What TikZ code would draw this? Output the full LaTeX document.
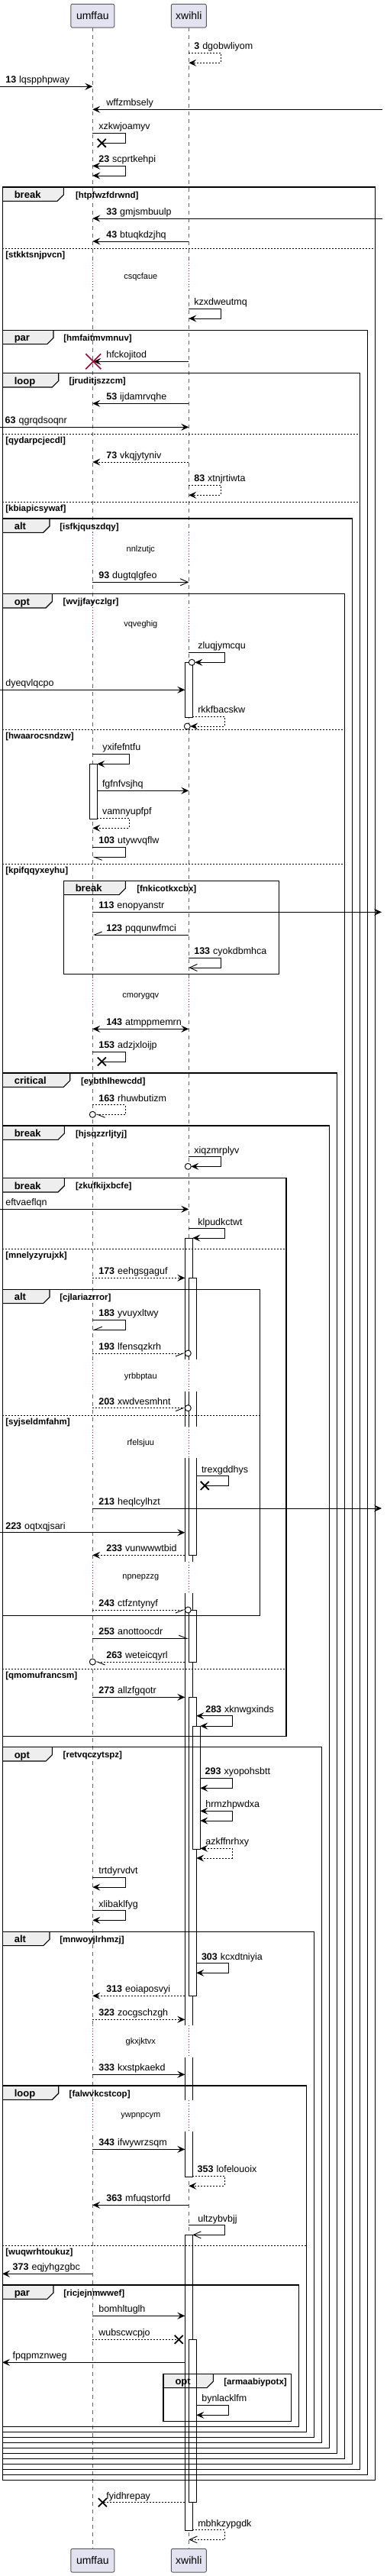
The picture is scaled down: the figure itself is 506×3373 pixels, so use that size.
\documentclass[tikz,border=0pt]{standalone}
\usepackage{fontspec}
\setmainfont{Liberation Sans}
\usetikzlibrary{arrows.meta}
\definecolor{partfill}{HTML}{E2E2F0}
\definecolor{partline}{HTML}{5A5A5A}
\definecolor{tabfill}{HTML}{EEEEEE}
\definecolor{delayred}{HTML}{A80036}
\definecolor{lifegray}{HTML}{666666}
\newcommand\mfont{\fontsize{12.5}{14}\selectfont}
\newcommand\gfont{\fontsize{13}{15}\selectfont\bfseries}
\newcommand\cfont{\fontsize{11.5}{13}\selectfont\bfseries}
\newcommand\dfont{\fontsize{11}{13}\selectfont}
\newcommand\pfont{\fontsize{14}{16}\selectfont}
\newcommand\nb[1]{\textbf{#1}\hspace{4pt}}
\newcommand\ml[3]{\node[lab] at (#1,#2-4.5) {#3};}
\newcommand\xm[2]{\draw[line width=1.8pt] (#1-5.5,#2-5.5) -- (#1+5.5,#2+5.5) (#1-5.5,#2+5.5) -- (#1+5.5,#2-5.5);}
\newcommand\ocirc[2]{\draw[line width=0.9pt,fill=white] (#1,#2) circle[radius=4pt];}
\def\framelist{3.3/245/491.7/3247.3/83.3/break/99/htpfwzfdrwnd,
3.3/432.3/481.7/3240.3/70/par/83.3/hmfaitmvmnuv,
3.3/488.7/471.7/3233.3/76.7/loop/90.7/jruditjszzcm,
3.3/679/461.7/3226.3/65/alt/78.3/isfkjquszdqy,
3.3/777.7/451.7/3219.3/68.3/opt/82.7/wvjjfayczlgr,
83.3/1153.3/365.7/1275.3/164.3/break/179.3/fnkicotkxcbx,
3.3/1405/441.7/3212.3/91.7/critical/106/eybthlhewcdd,
3.3/1474/431.7/3205.3/84.3/break/99/hjsqzzrljtyj,
3.3/1542.7/375/2273.3/84.3/break/99/zkufkijxbcfe,
3.3/1688.3/340.7/2115.7/65/alt/78.3/cjlariazrror,
3.3/2287.7/421.7/3198.3/68.3/opt/82.7/retvqczytspz,
3.3/2529.3/411.7/3191.3/65/alt/78.3/mnwoyjlrhmzj,
3.3/2731/401.7/3184.3/76.7/loop/90.7/falwvkcstcop,
3.3/2992/391.7/3177.3/70/par/83.3/ricjejnmwwef,
214/3108.3/381.7/3170.3/279.3/opt/293.3/armaabiypotx}
\def\seplist{325/491.7/stkktsnjpvcn,568.3/471.7/qydarpcjecdl,657.3/471.7/kbiapicsywaf,
955.3/451.7/hwaarocsndzw,1131/451.7/kpifqqyxeyhu,1635.3/375/mnelyzyrujxk,
1853/340.7/syjseldmfahm,2185.3/375/qmomufrancsm,2940/401.7/wuqwrhtoukuz}
\def\delaylist{340/380/362.3/csqcfaue,696.7/740/719.3/nnlzutjc,795/838/817.3/vqveghig,
1283.3/1323.3/1304.3/cmorygqv,1780/1821.7/1802.3/yrbbptau,1868.3/1909.3/1890/rfelsjuu,
2045/2086/2066/npnepzzg,2652.3/2694/2674/gkxjktvx,2750/2790.7/2771/ywpnpcym}
\begin{document}
\begin{tikzpicture}[x=1pt,y=-1pt, every node/.style={inner sep=0pt, outer sep=0pt},
  msg/.style={draw=black, line width=0.9pt},
  dsh/.style={dash pattern=on 2pt off 2pt},
  sarr/.style={-{Stealth[length=10pt,width=9pt,inset=4pt]}},
  sarrb/.style={{Stealth[length=10pt,width=9pt,inset=4pt]}-{Stealth[length=10pt,width=9pt,inset=4pt]}},
  oarr/.style={-{Straight Barb[length=10pt,width=9pt]}},
  harr/.style={-{Straight Barb[harpoon,length=10pt,width=8pt]}},
  harrs/.style={-{Straight Barb[harpoon,swap,length=10pt,width=8pt]}},
  lab/.style={anchor=base west, font=\mfont},
  frm/.style={draw=black, line width=1.4pt},
  part/.style={draw=partline, fill=partfill, line width=0.9pt, rounded corners=2pt, font=\pfont, minimum height=30.7pt},
  act/.style={draw=black, fill=white, line width=0.9pt},
  life/.style={draw=lifegray, line width=0.8pt, dash pattern=on 5pt off 5pt}]
\useasboundingbox (0,0) rectangle (506,3373);
% tab fills
\foreach \l/\t/\r/\b/\tr/\nm/\cx/\cn in \framelist {
  \fill[tabfill] (\l,\t) -- (\tr,\t) -- (\tr,\t+10) -- (\tr-8.3,\t+18.3) -- (\l,\t+18.3) -- cycle;
}
% participants
\node[part, minimum width=57pt] (u1) at (121.3,20.7) {umffau};
\node[part, minimum width=46pt] (w1) at (247.3,20.7) {xwihli};
\node[part, minimum width=57pt] (u2) at (121.3,3352.7) {umffau};
\node[part, minimum width=46pt] (w2) at (247.3,3352.7) {xwihli};
\draw[life] (u1.south) -- (u2.north);
\draw[life] (w1.south) -- (w2.north);
% activations
\draw[act] (242.3,867.3) rectangle (252.3,939.3);
\draw[act] (117.3,1000.3) rectangle (127.3,1072);
\draw[act] (242.3,1621) rectangle (252.3,2850);
\draw[act] (247.3,1673.3) rectangle (257.3,2036.3);
\draw[act] (247.3,2108) rectangle (257.3,2176.7);
\draw[act] (247.3,2222.3) rectangle (257.3,2613.3);
\draw[act] (252.3,2260.7) rectangle (262.3,2421.3);
\draw[act] (242.3,2926.3) rectangle (252.3,3313.3);
\draw[act] (247.3,3063.3) rectangle (257.3,3276.7);
% delays
\foreach \ya/\yb/\yt/\tx in \delaylist {
  \fill[white] (119.3,\ya) rectangle (123.3,\yb);
  \fill[white] (240.8,\ya) rectangle (259,\yb);
  \draw[delayred, line width=0.8pt, dash pattern=on 1pt off 2.5pt] (121.3,\ya) -- (121.3,\yb) (247.3,\ya) -- (247.3,\yb);
  \node[font=\dfont] at (184.3,\yt) {\tx};
}
% frames
\foreach \l/\t/\r/\b/\tr/\nm/\cx/\cn in \framelist {
  \draw[frm] (\l,\t) rectangle (\r,\b);
  \draw[draw=black, line width=1.1pt] (\tr,\t) -- (\tr,\t+10) -- (\tr-8.3,\t+18.3) -- (\l,\t+18.3);
  \node[anchor=base west,font=\gfont] at (\l+15.5,\t+14.5) {\nm};
  \node[anchor=base west,font=\cfont] at (\cx,\t+14) {[\cn]};
}
\foreach \y/\r/\cn in \seplist {
  \draw[black, line width=0.8pt, dash pattern=on 2pt off 2pt] (3.3,\y) -- (\r,\y);
  \node[anchor=base west,font=\cfont] at (7.3,\y+12) {[\cn]};
}
% messages
\draw[msg,dsh,sarr] (247.3,69.3) -- (289.3,69.3) -- (289.3,82.3) -- (247.3,82.3); \ml{254.3}{69.3}{\nb{3}dgobwliyom}
\draw[msg,sarr] (0,113.3) -- (121.3,113.3); \ml{7.3}{113.3}{\nb{13}lqspphpway}
\draw[msg,sarr] (501,143.3) -- (121.3,143.3); \ml{139.3}{143.3}{wffzmbsely}
\draw[msg] (121.3,174.3) -- (164.3,174.3) -- (164.3,187.3) -- (133.3,187.3); \xm{133.3}{187.3} \ml{129.3}{174.3}{xzkwjoamyv}
\draw[msg,sarrb] (121.3,217.3) -- (164.3,217.3) -- (164.3,230) -- (121.3,230); \ml{129.3}{217.3}{\nb{23}scprtkehpi}
\draw[msg,sarr] (501,286) -- (121.3,286); \ml{139.3}{286}{\nb{33}gmjsmbuulp}
\draw[msg,sarr] (247.3,316) -- (121.3,316); \ml{139.3}{316}{\nb{43}btuqkdzjhq}
\draw[msg,sarr] (247.3,404.3) -- (289.3,404.3) -- (289.3,417) -- (247.3,417); \ml{254.3}{404.3}{kzxdweutmq}
\draw[msg,sarr] (247.3,473.3) -- (122.3,473.3); \ml{139.3}{473.3}{hfckojitod}
\draw[delayred, line width=1.6pt] (112.3,463.3) -- (132.3,483.3) (112.3,483.3) -- (132.3,463.3);
\draw[msg,sarr] (247.3,528.3) -- (121.3,528.3); \ml{139.3}{528.3}{\nb{53}ijdamrvqhe}
\draw[msg,sarr] (0,559.3) -- (247.3,559.3); \ml{6.7}{559.3}{\nb{63}qgrqdsoqnr}
\draw[msg,dsh,sarr] (247.3,605) -- (121.3,605); \ml{139.3}{605}{\nb{73}vkqjytyniv}
\draw[msg,dsh,sarr] (247.3,635.3) -- (289.3,635.3) -- (289.3,648.3) -- (247.3,648.3); \ml{254.3}{635.3}{\nb{83}xtnjrtiwta}
\draw[msg,oarr] (121.3,762.3) -- (247.3,762.3); \ml{129.3}{762.3}{\nb{93}dugtqlgfeo}
\draw[msg,sarr] (247.3,854.3) -- (294.3,854.3) -- (294.3,867.3) -- (255.3,867.3); \ocirc{251.3}{867.3} \ml{259.3}{854.3}{zluqjymcqu}
\draw[msg,sarr] (0,903.3) -- (242.3,903.3); \ml{7.3}{903.3}{dyeqvlqcpo}
\draw[msg,dsh,sarr] (252.3,938.3) -- (294.3,938.3) -- (294.3,951) -- (249.3,951); \ocirc{245.3}{951} \ml{259.3}{938.3}{rkkfbacskw}
\draw[msg,sarr] (121.3,987.3) -- (169.3,987.3) -- (169.3,1000.3) -- (127.3,1000.3); \ml{134.3}{987.3}{yxifefntfu}
\draw[msg,sarr] (127.3,1035.3) -- (247.3,1035.3); \ml{134}{1035.3}{fgfnfvsjhq}
\draw[msg,dsh,sarr] (127.3,1071.3) -- (169.3,1071.3) -- (169.3,1084.3) -- (121.3,1084.3); \ml{134}{1071.3}{vamnyupfpf}
\draw[msg,harr] (121.3,1109.3) -- (164.3,1109.3) -- (164.3,1122.3) -- (121.3,1122.3); \ml{129.3}{1109.3}{\nb{103}utywvqflw}
\draw[msg,sarr] (121.3,1194.3) -- (500,1194.3); \ml{129.3}{1194.3}{\nb{113}enopyanstr}
\draw[msg,harrs] (247.3,1224) -- (121.3,1224); \ml{139.3}{1224}{\nb{123}pqqunwfmci}
\draw[msg,oarr] (247.3,1254.3) -- (289.3,1254.3) -- (289.3,1267) -- (247.3,1267); \ml{254.3}{1254.3}{\nb{133}cyokdbmhca}
\draw[msg,sarrb] (121.3,1347.3) -- (247.3,1347.3); \ml{139.3}{1347.3}{\nb{143}atmppmemrn}
\draw[msg] (121.3,1377.3) -- (164.3,1377.3) -- (164.3,1390) -- (133.3,1390); \xm{133.3}{1390} \ml{129.3}{1377.3}{\nb{153}adzjxloijp}
\draw[msg,dsh,harr] (121.3,1446.7) -- (164.3,1446.7) -- (164.3,1459.3) -- (125.3,1459.3); \ocirc{121.3}{1459.3} \ml{129.3}{1446.7}{\nb{163}rhuwbutizm}
\draw[msg,sarr] (247.3,1514.7) -- (289.3,1514.7) -- (289.3,1527.3) -- (250.3,1527.3); \ocirc{246.3}{1527.3} \ml{254.3}{1514.7}{xiqzmrplyv}
\draw[msg,sarr] (0,1583.3) -- (247.3,1583.3); \ml{7.3}{1583.3}{eftvaeflqn}
\draw[msg,sarr] (247.3,1608.7) -- (294.3,1608.7) -- (294.3,1621) -- (252.3,1621); \ml{259.3}{1608.7}{klpudkctwt}
\draw[msg,dsh,sarr] (121.3,1673.3) -- (242.3,1673.3); \ml{129.3}{1673.3}{\nb{173}eehgsgaguf}
\draw[msg,harrs] (121.3,1728.3) -- (164.3,1728.3) -- (164.3,1741.3) -- (121.3,1741.3); \ml{129.3}{1728.3}{\nb{183}yvuyxltwy}
\draw[msg,dsh,harrs] (121.3,1772) -- (242.3,1772); \ocirc{246.3}{1772} \ml{129.3}{1772}{\nb{193}lfensqzkrh}
\draw[msg,dsh,harrs] (121.3,1843.7) -- (242.3,1843.7); \ocirc{246.3}{1843.7} \ml{129.3}{1843.7}{\nb{203}xwdvesmhnt}
\draw[msg] (257.3,1932.7) -- (299.3,1932.7) -- (299.3,1945.3) -- (268.3,1945.3); \xm{268.3}{1945.3} \ml{264}{1932.7}{trexgddhys}
\draw[msg,sarr] (121.3,1975) -- (500,1975); \ml{129.3}{1975}{\nb{213}heqlcylhzt}
\draw[msg,sarr] (0,2006.7) -- (242.3,2006.7); \ml{7.3}{2006.7}{\nb{223}oqtxqjsari}
\draw[msg,dsh,sarr] (242.3,2036.3) -- (121.3,2036.3); \ml{139.3}{2036.3}{\nb{233}vunwwwtbid}
\draw[msg,dsh,harrs] (121.3,2108) -- (242.3,2108); \ocirc{246.3}{2108} \ml{129.3}{2108}{\nb{243}ctfzntynyf}
\draw[msg,harr] (121.3,2145.3) -- (246.7,2145.3); \ml{129.3}{2145.3}{\nb{253}anottoocdr}
\draw[msg,dsh,harr] (242.3,2176) -- (125.3,2176); \ocirc{121.3}{2176} \ml{139.3}{2176}{\nb{263}weteicqyrl}
\draw[msg,sarr] (121.3,2222.3) -- (242.3,2222.3); \ml{129.3}{2222.3}{\nb{273}allzfgqotr}
\draw[msg,sarrb] (257.3,2246.7) -- (304.3,2246.7) -- (304.3,2260) -- (262.3,2260); \ml{269.3}{2246.7}{\nb{283}xknwgxinds}
\draw[msg,sarr] (262.3,2328.3) -- (304.3,2328.3) -- (304.3,2341.3) -- (262.3,2341.3); \ml{268.7}{2328.3}{\nb{293}xyopohsbtt}
\draw[msg,sarrb] (262.3,2371.3) -- (304.3,2371.3) -- (304.3,2384) -- (262.3,2384); \ml{269.3}{2371.3}{hrmzhpwdxa}
\draw[msg,dsh,sarrb] (262.3,2420.3) -- (304.3,2420.3) -- (304.3,2433) -- (257.3,2433); \ml{269.3}{2420.3}{azkffnrhxy}
\draw[msg,sarr] (121.3,2458.3) -- (164.3,2458.3) -- (164.3,2471) -- (121.3,2471); \ml{129.3}{2458.3}{trtdyrvdvt}
\draw[msg,sarr] (121.3,2501.7) -- (164.3,2501.7) -- (164.3,2514.3) -- (121.3,2514.3); \ml{129.3}{2501.7}{xlibaklfyg}
\draw[msg,sarr] (257.3,2570.7) -- (299.3,2570.7) -- (299.3,2583.3) -- (257.3,2583.3); \ml{264}{2570.7}{\nb{303}kcxdtniyia}
\draw[msg,dsh,sarr] (242.3,2613.3) -- (121.3,2613.3); \ml{139.3}{2613.3}{\nb{313}eoiaposvyi}
\draw[msg,dsh,sarr] (121.3,2644.3) -- (242.3,2644.3); \ml{129.3}{2644.3}{\nb{323}zocgschzgh}
\draw[msg,sarr] (121.3,2716.3) -- (242.3,2716.3); \ml{129.3}{2716.3}{\nb{333}kxstpkaekd}
\draw[msg,sarr] (121.3,2814.3) -- (242.3,2814.3); \ml{129.3}{2814.3}{\nb{343}ifwywrzsqm}
\draw[msg,dsh,sarr] (252.3,2849.3) -- (294.3,2849.3) -- (294.3,2862.3) -- (247.3,2862.3); \ml{258.7}{2849.3}{\nb{353}lofelouoix}
\draw[msg,sarr] (247.3,2887.3) -- (121.3,2887.3); \ml{139.3}{2887.3}{\nb{363}mfuqstorfd}
\draw[msg,oarr] (247.3,2913.7) -- (294.3,2913.7) -- (294.3,2926.3) -- (252.3,2926.3); \ml{259.3}{2913.7}{ultzybvbjj}
\draw[msg,sarr] (121.3,2977.3) -- (3,2977.3); \ml{16.7}{2977.3}{\nb{373}eqjyhgzgbc}
\draw[msg,sarr] (121.3,3032.3) -- (242.3,3032.3); \ml{129.3}{3032.3}{bomhltuglh}
\draw[msg,dsh] (121.3,3063.3) -- (234.3,3063.3); \xm{234.3}{3063.3} \ml{129.3}{3063.3}{wubscwcpjo}
\draw[msg,sarr] (242.3,3093.3) -- (3,3093.3); \ml{16.7}{3093.3}{fpqpmznweg}
\draw[msg,sarr] (257.3,3149.3) -- (299.3,3149.3) -- (299.3,3162.3) -- (257.3,3162.3); \ml{264.3}{3149.3}{bynlacklfm}
\draw[msg,dsh] (242.3,3276.7) -- (134.3,3276.7); \xm{134.3}{3276.7} \ml{139.3}{3276.7}{fyidhrepay}
\draw[msg,dsh,oarr] (252.3,3312.7) -- (294.3,3312.7) -- (294.3,3325.3) -- (247.3,3325.3); \ml{259.3}{3312.7}{mbhkzypgdk}
\end{tikzpicture}
\end{document}
